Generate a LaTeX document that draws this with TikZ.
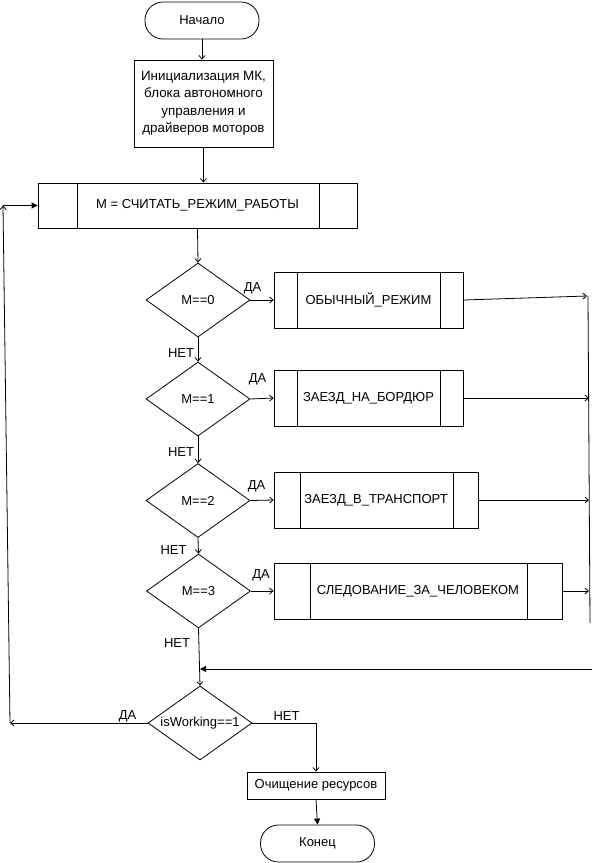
\documentclass[tikz,border=0pt]{standalone}
\usepackage{fontspec}
\setmainfont{Liberation Sans}
\usetikzlibrary{shapes.geometric,arrows.meta}

\begin{document}
\begin{tikzpicture}[x=1pt,y=-1pt,
  font=\fontsize{13}{17.5}\selectfont,
  line width=0.8pt,
  term/.style={draw, rectangle, rounded corners=18pt, minimum width=114pt,
    minimum height=37pt, inner sep=0pt},
  proc/.style={draw, rectangle, inner sep=0pt},
  cond/.style={draw, diamond, inner sep=0pt, aspect=1.4,
    minimum width=104pt, minimum height=74pt},
  arr/.style={-{Straight Barb[length=3.5pt,width=6pt]}},
  farr/.style={-{Triangle[length=6pt,width=6pt]}},
  lbl/.style={inner sep=0pt}
]
\useasboundingbox (0,0) rectangle (593,863);

% main column
\node[term] (start) at (202,20.5) {Начало};
\node[proc, minimum width=139pt, minimum height=87pt, align=center,
  font=\fontsize{13.4}{17.5}\selectfont] (init) at (203.5,103.5)
  {Инициализация МК,\\блока автономного\\управления и\\драйверов моторов};
\node[proc, minimum width=319pt, minimum height=45pt] (read) at (197.5,205.5)
  {М = СЧИТАТЬ\_РЕЖИМ\_РАБОТЫ};
\draw ([xshift=40pt]read.north west) -- ([xshift=40pt]read.south west);
\draw ([xshift=-38pt]read.north east) -- ([xshift=-38pt]read.south east);

% mode checks
\node[cond] (d0) at (198,300) {М==0};
\node[cond] (d1) at (198,399) {М==1};
\node[cond] (d2) at (198,500.5) {М==2};
\node[cond] (d3) at (198.5,591) {М==3};

% mode subroutines
\node[proc, minimum width=189pt, minimum height=56pt] (b0) at (368.5,300) {ОБЫЧНЫЙ\_РЕЖИМ};
\draw ([xshift=24pt]b0.north west) -- ([xshift=24pt]b0.south west);
\draw ([xshift=-23pt]b0.north east) -- ([xshift=-23pt]b0.south east);

\node[proc, minimum width=189pt, minimum height=56pt] (b1) at (368.5,398) {ЗАЕЗД\_НА\_БОРДЮР};
\draw ([xshift=24pt]b1.north west) -- ([xshift=24pt]b1.south west);
\draw ([xshift=-23pt]b1.north east) -- ([xshift=-23pt]b1.south east);

\node[proc, minimum width=204pt, minimum height=56pt] (b2) at (376,500) {ЗАЕЗД\_В\_ТРАНСПОРТ};
\draw ([xshift=27pt]b2.north west) -- ([xshift=27pt]b2.south west);
\draw ([xshift=-25pt]b2.north east) -- ([xshift=-25pt]b2.south east);

\node[proc, minimum width=288pt, minimum height=56pt] (b3) at (418,591) {СЛЕДОВАНИЕ\_ЗА\_ЧЕЛОВЕКОМ};
\draw ([xshift=37pt]b3.north west) -- ([xshift=37pt]b3.south west);
\draw ([xshift=-35pt]b3.north east) -- ([xshift=-35pt]b3.south east);

% loop condition and exit
\node[cond] (dw) at (200,723) {isWorking==1};
\node[proc, minimum width=138pt, minimum height=27pt] (clean) at (316,785.5) {Очищение ресурсов};
\node[term] (stop) at (317.5,843.5) {Конец};

% free ends of the return lines
\coordinate (r0) at (587,296);
\coordinate (r1) at (589,398);
\coordinate (r2) at (589,500);
\coordinate (r3) at (589,591);
\coordinate (rtop) at (588,296);
\coordinate (rbot) at (590,623);
\coordinate (m0) at (592,669);
\coordinate (m1) at (200,669);
\coordinate (l0) at (10,723);
\coordinate (l1) at (3,205.5);

% connectors
\draw[arr] (start) -- (init.north -| start);
\draw[arr] (init.south) -- (init.south |- read.north);
\draw[arr] (read.south) -- (d0.north);
\draw[arr] (d0.south) -- (d1.north);
\draw[arr] (d1.south) -- (d2.north);
\draw[arr] (d2.south) -- (d3.north);
\draw[arr] (d3.south) -- (dw.north);

\draw[arr] (d0.east) -- (b0.west);
\draw[arr] (d1.east) -- (b1.west);
\draw[arr] (d2.east) -- (b2.west);
\draw[arr] (d3.east) -- (b3.west);

\draw[arr] (b0.east) -- (r0);
\draw[arr] (b1.east) -- (r1);
\draw[arr] (b2.east) -- (r2);
\draw[arr] (b3.east) -- (r3);
\draw (rtop) -- (rbot);
\draw[farr] (m0) -- (m1);

\draw[arr] (dw.west) -- (l0);
\draw[arr] (l0) -- (l1);
\draw[farr] (l1) -- (read.west);

\draw[arr] (dw.east) -| (clean.north);
\draw[farr] (clean.south) -- (stop.north);

% branch labels
\node[lbl] (y0) at (252.5,288) {ДА};
\node[lbl] (y1) at (257.5,379) {ДА};
\node[lbl] (y2) at (256.5,486) {ДА};
\node[lbl] (y3) at (261,575) {ДА};
\node[lbl] (n0) at (181,353) {НЕТ};
\node[lbl] (n1) at (181,452) {НЕТ};
\node[lbl] (n2) at (173.5,550) {НЕТ};
\node[lbl] (n3) at (177,643) {НЕТ};
\node[lbl] (yw) at (127.5,716) {ДА};
\node[lbl] (nw) at (286.5,716) {НЕТ};
\end{tikzpicture}
\end{document}
